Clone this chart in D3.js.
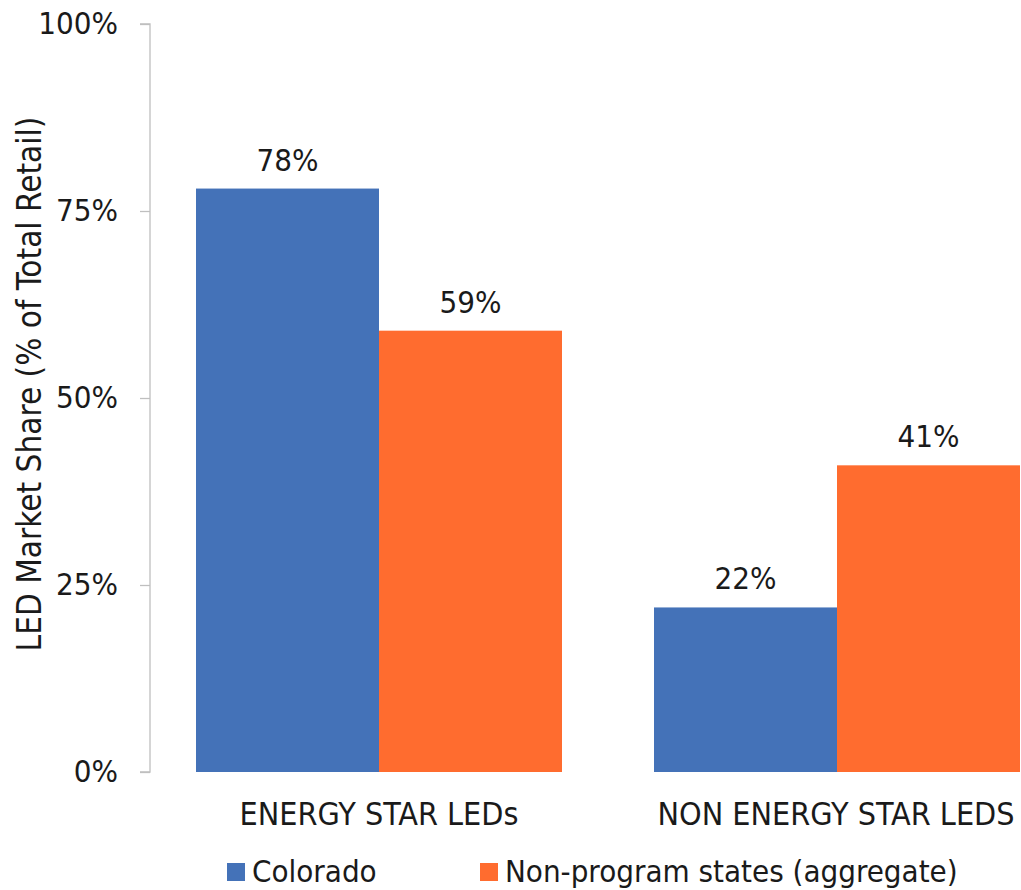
<!DOCTYPE html>
<html><head><meta charset="utf-8">
<script src="https://cdn.jsdelivr.net/npm/d3@7"></script>
<style>body{margin:0;background:#fff}svg{display:block}text{font-family:"DejaVu Sans Condensed","DejaVu Sans",Verdana,sans-serif;fill:#1a1a1a}</style>
</head><body>
<script>
const categories = ["ENERGY STAR LEDs", "NON ENERGY STAR LEDS"];
const seriesNames = ["Colorado", "Non-program states (aggregate)"];
const colorado = [78, 22];
const nonProgram = [59, 41];
const yTicks = [0, 25, 50, 75, 100];
const colors = ["#4472B8", "#FF6C2F"];

const W = 1021, H = 890;
const ff = '"DejaVu Sans Condensed","DejaVu Sans",Verdana,sans-serif';
const svg = d3.select("body").append("svg").attr("width", W).attr("height", H);
const x0 = 150, plotTop = 24, plotBottom = 772;
const x = d3.scaleBand().domain(categories).range([x0, x0 + 916]).paddingInner(0).paddingOuter(0);
const xs = d3.scaleBand().domain(seriesNames).range([0, x.bandwidth()]).paddingInner(0).paddingOuter(0.2514);
const y = d3.scaleLinear().domain([0, 100]).range([plotBottom, plotTop]);

const fs = 31;
// y axis
const yAxis = d3.axisLeft(y).tickValues(yTicks).tickFormat(d => d + "%").tickSize(10).tickPadding(22);
const ga = svg.append("g").attr("transform", `translate(${x0},0)`).call(yAxis);
ga.select(".domain").attr("stroke", "#bfbfbf").attr("stroke-width", 1.3).attr("d", `M-10,${plotTop}H0V${plotBottom}H-10`);
ga.selectAll(".tick line").attr("stroke", "#bfbfbf").attr("stroke-width", 1.3);
ga.selectAll(".tick text").attr("font-size", fs).attr("fill", "#1a1a1a").style("font-family", ff);

const data = categories.map((c, i) => ({cat: c, vals: [colorado[i], nonProgram[i]]}));
const g = svg.append("g");
data.forEach(d => {
  d.vals.forEach((v, j) => {
    const bx = x(d.cat) + xs(seriesNames[j]);
    g.append("rect").attr("x", bx).attr("y", y(v)).attr("width", xs.bandwidth()).attr("height", y(0) - y(v)).attr("fill", colors[j]);
    g.append("text").attr("x", bx + xs.bandwidth() / 2).attr("y", y(v) - 18).attr("text-anchor", "middle").attr("font-size", fs).text(v + "%");
  });
  svg.append("text").attr("x", x(d.cat) + x.bandwidth() / 2 - (d.cat === categories[1] ? 1 : 0)).attr("y", 825).attr("text-anchor", "middle").attr("font-size", 32).text(d.cat);
});

// y title
svg.append("text").attr("transform", "translate(41,384) rotate(-90)").attr("text-anchor", "middle").attr("font-size", 33).text("LED Market Share (% of Total Retail)");

// legend
const legX = [227, 480];
seriesNames.forEach((s, j) => {
  svg.append("rect").attr("x", legX[j]).attr("y", 863).attr("width", 18).attr("height", 18).attr("fill", colors[j]);
  svg.append("text").attr("x", legX[j] + 25).attr("y", 882).attr("font-size", fs).text(s);
});
</script>
</body></html>
